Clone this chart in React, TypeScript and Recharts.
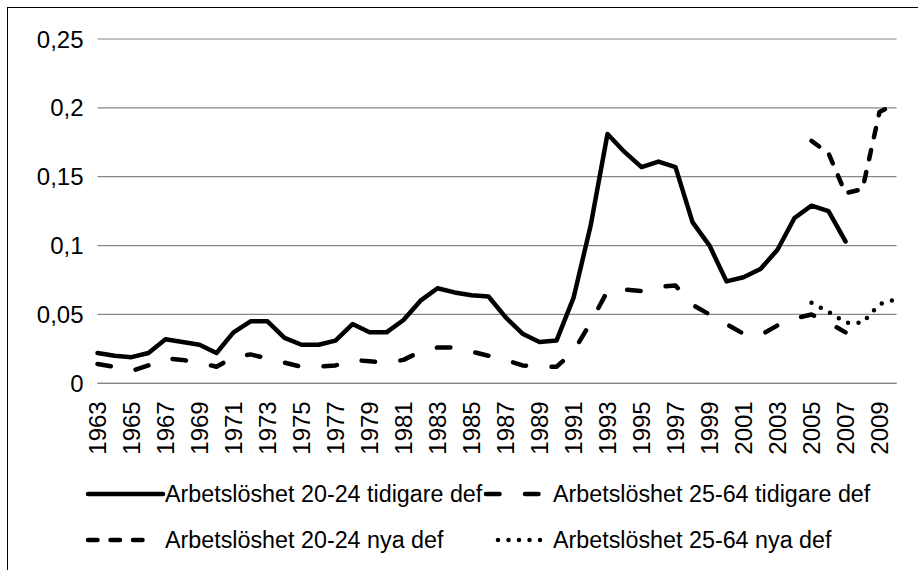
import { CartesianGrid, Legend, Line, LineChart, XAxis, YAxis } from 'recharts';

const years = [
  '1963', '1964', '1965', '1966', '1967', '1968', '1969', '1970', '1971', '1972',
  '1973', '1974', '1975', '1976', '1977', '1978', '1979', '1980', '1981', '1982',
  '1983', '1984', '1985', '1986', '1987', '1988', '1989', '1990', '1991', '1992',
  '1993', '1994', '1995', '1996', '1997', '1998', '1999', '2000', '2001', '2002',
  '2003', '2004', '2005', '2006', '2007', '2008', '2009', '2010',
];

// 20-24, old definition (1963-2007)
const young_old = [
  0.022, 0.020, 0.019, 0.022, 0.032, 0.030, 0.028, 0.022, 0.037, 0.045,
  0.045, 0.033, 0.028, 0.028, 0.031, 0.043, 0.037, 0.037, 0.046, 0.060,
  0.069, 0.066, 0.064, 0.063, 0.048, 0.036, 0.030, 0.031, 0.062, 0.114,
  0.181, 0.168, 0.157, 0.161, 0.157, 0.117, 0.100, 0.074, 0.077, 0.083,
  0.097, 0.120, 0.129, 0.125, 0.103,
];

// 25-64, old definition (1963-2007)
const adult_old = [
  0.014, 0.012, 0.009, 0.013, 0.018, 0.017, 0.015, 0.012, 0.019, 0.021,
  0.018, 0.015, 0.012, 0.012, 0.013, 0.017, 0.016, 0.015, 0.017, 0.023,
  0.026, 0.026, 0.023, 0.020, 0.017, 0.013, 0.012, 0.012, 0.023, 0.044,
  0.067, 0.068, 0.067, 0.070, 0.071, 0.057, 0.050, 0.043, 0.036, 0.035,
  0.042, 0.047, 0.050, 0.044, 0.037,
];

// new definition, 2005-2010
const newYears = ['2005', '2006', '2007', '2008', '2009', '2010'];
const young_new = [0.176, 0.167, 0.138, 0.141, 0.197, 0.203];
const adult_new = [0.0585, 0.052, 0.044, 0.044, 0.0575, 0.061];

const yTicks = [0, 0.05, 0.1, 0.15, 0.2, 0.25];

const data = years.map((year, i) => {
  const j = newYears.indexOf(year);
  return {
    year,
    youngOld: young_old[i] ?? null,
    adultOld: adult_old[i] ?? null,
    youngNew: j >= 0 ? young_new[j] : null,
    adultNew: j >= 0 ? adult_new[j] : null,
  };
});

const FONT = '"Liberation Sans", Arial, sans-serif';

const SERIES = [
  { key: 'youngOld', name: 'Arbetslöshet 20-24 tidigare def', dash: undefined },
  { key: 'adultOld', name: 'Arbetslöshet 25-64 tidigare def', dash: '13.5 25.5' },
  { key: 'youngNew', name: 'Arbetslöshet 20-24 nya def', dash: '9.5 13' },
  { key: 'adultNew', name: 'Arbetslöshet 25-64 nya def', dash: '0 10.5' },
];

function YearTick({ x, y, payload }: any) {
  return (
    <text
      x={x}
      y={y + 18}
      transform={`rotate(-90, ${x}, ${y + 18})`}
      textAnchor="end"
      dy="0.36em"
      fontSize={24}
      fontFamily={FONT}
      fill="#000"
    >
      {payload.value}
    </text>
  );
}

function ChartLegend() {
  // icon start, icon length, text start (all relative to the chart box)
  const cells = [
    { s: SERIES[0], x: 80, len: 75, tx: 157, y: 26 },
    { s: SERIES[1], x: 478, len: 65, tx: 545, y: 26 },
    { s: SERIES[2], x: 80, len: 62, tx: 157, y: 72 },
    { s: SERIES[3], x: 490, len: 48, tx: 545, y: 72 },
  ];
  return (
    <svg width={910} height={90} style={{ display: 'block' }}>
      {cells.map(({ s, x, len, tx, y }) => (
        <g key={s.key}>
          <line
            x1={x}
            x2={x + len}
            y1={y}
            y2={y}
            stroke="#000"
            strokeWidth={4.5}
            strokeDasharray={s.dash}
            strokeLinecap="round"
          />
          <text x={tx} y={y} dy="0.35em" fontSize={23.3} fontFamily={FONT} fill="#000">
            {s.name}
          </text>
        </g>
      ))}
    </svg>
  );
}

export default function App() {
  return (
    <div
      style={{
        position: 'absolute',
        left: 7,
        top: 7,
        width: 910,
        height: 562,
        borderLeft: '1px solid #000',
        borderTop: '1px solid #000',
        background: '#fff',
      }}
    >
      <LineChart
        width={910}
        height={562}
        data={data}
        margin={{ top: 31, right: 21.5, left: 0, bottom: 106.7 }}
      >
        <CartesianGrid horizontal vertical={false} stroke="#868686" strokeWidth={1.2} />
        <XAxis
          dataKey="year"
          interval={1}
          height={80}
          tick={<YearTick />}
          tickLine={false}
          tickSize={0}
          tickMargin={0}
          axisLine={{ stroke: '#868686', strokeWidth: 1.2 }}
        />
        <YAxis
          width={89.5}
          domain={[0, 0.25]}
          ticks={yTicks}
          axisLine={false}
          tickLine={false}
          tickSize={0}
          tickMargin={14}
          tickFormatter={(v: number) => String(v).replace('.', ',')}
          tick={{ fontSize: 24, fontFamily: FONT, fill: '#000' }}
        />
        <Legend
          layout="horizontal"
          verticalAlign="middle"
          align="center"
          wrapperStyle={{ top: 460, left: 0, width: 910, height: 90 }}
          content={() => <ChartLegend />}
        />
        {SERIES.map((s) => (
          <Line
            key={s.key}
            type="linear"
            dataKey={s.key}
            name={s.name}
            stroke="#000"
            strokeWidth={4.5}
            strokeDasharray={s.dash}
            strokeLinecap="round"
            strokeLinejoin="round"
            dot={false}
            activeDot={false}
            connectNulls={false}
            isAnimationActive={false}
          />
        ))}
      </LineChart>
    </div>
  );
}
